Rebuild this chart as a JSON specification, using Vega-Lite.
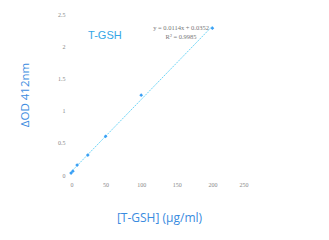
{
  "$schema": "https://vega.github.io/schema/vega-lite/v6.json",
  "autosize": "none",
  "width": 178,
  "height": 161,
  "padding": {"left": 70, "top": 14, "right": 81, "bottom": 65},
  "background": "white",
  "config": {"view": {"stroke": null}, "font": "Liberation Sans"},
  "datasets": {
    "pts": [
      {"conc": 1.5, "od": 0.03},
      {"conc": 4, "od": 0.06},
      {"conc": 10, "od": 0.155},
      {"conc": 25, "od": 0.31},
      {"conc": 50, "od": 0.6},
      {"conc": 100, "od": 1.24},
      {"conc": 200, "od": 2.28}
    ],
    "notes": [
      {"conc": 49, "od": 2.16, "label": "T-GSH", "kind": "title"},
      {"conc": 156, "od": 2.29, "label": "y = 0.0114x + 0.0352", "kind": "eq"},
      {"conc": 156, "od": 2.15, "label": "R² = 0.9985", "kind": "eq"}
    ]
  },
  "encoding": {
    "x": {"field": "conc", "type": "quantitative", "scale": {"domain": [0, 250], "nice": false},
      "axis": {"values": [0, 50, 100, 150, 200, 250], "format": "~f", "labelOverlap": false, "domain": false, "ticks": false, "grid": false,
        "labelFontSize": 6, "labelColor": "#888888", "labelPadding": 6, "labelFont": "Liberation Serif",
        "title": "[T-GSH]  (μg/ml)", "titleColor": "#3a8be0", "titleFontSize": 12, "titleFontWeight": "normal", "titlePadding": 25, "titleFont": "Open Sans"}},
    "y": {"field": "od", "type": "quantitative", "scale": {"domain": [0, 2.5], "nice": false},
      "axis": {"values": [0, 0.5, 1, 1.5, 2, 2.5], "format": "~f", "labelOverlap": false, "domain": false, "ticks": false, "grid": false,
        "labelFontSize": 6, "labelColor": "#888888", "labelPadding": 5, "labelFont": "Liberation Serif",
        "title": "ΔOD 412nm", "titleColor": "#3a8be0", "titleFontSize": 11.5, "titleFontWeight": "normal", "titlePadding": 27, "titleFont": "Open Sans"}}
  },
  "layer": [
    {
      "data": {"name": "pts"},
      "transform": [{"regression": "od", "on": "conc", "extent": [0, 200]}],
      "mark": {"type": "line", "color": "#6fd6f7", "strokeWidth": 1, "strokeDash": [2, 1]}
    },
    {
      "data": {"name": "pts"},
      "mark": {"type": "point", "filled": true, "shape": "diamond", "size": 14, "color": "#3aa0f5", "opacity": 1}
    },
    {
      "data": {"name": "notes"},
      "transform": [{"filter": "datum.kind == 'title'"}],
      "mark": {"type": "text", "fontSize": 11, "color": "#35a6e6", "align": "center", "baseline": "middle"},
      "encoding": {"text": {"field": "label"}}
    },
    {
      "data": {"name": "notes"},
      "transform": [{"filter": "datum.kind == 'eq'"}],
      "mark": {"type": "text", "fontSize": 6.5, "color": "#777777", "align": "center", "baseline": "middle", "font": "Liberation Serif"},
      "encoding": {"text": {"field": "label"}}
    }
  ]
}
